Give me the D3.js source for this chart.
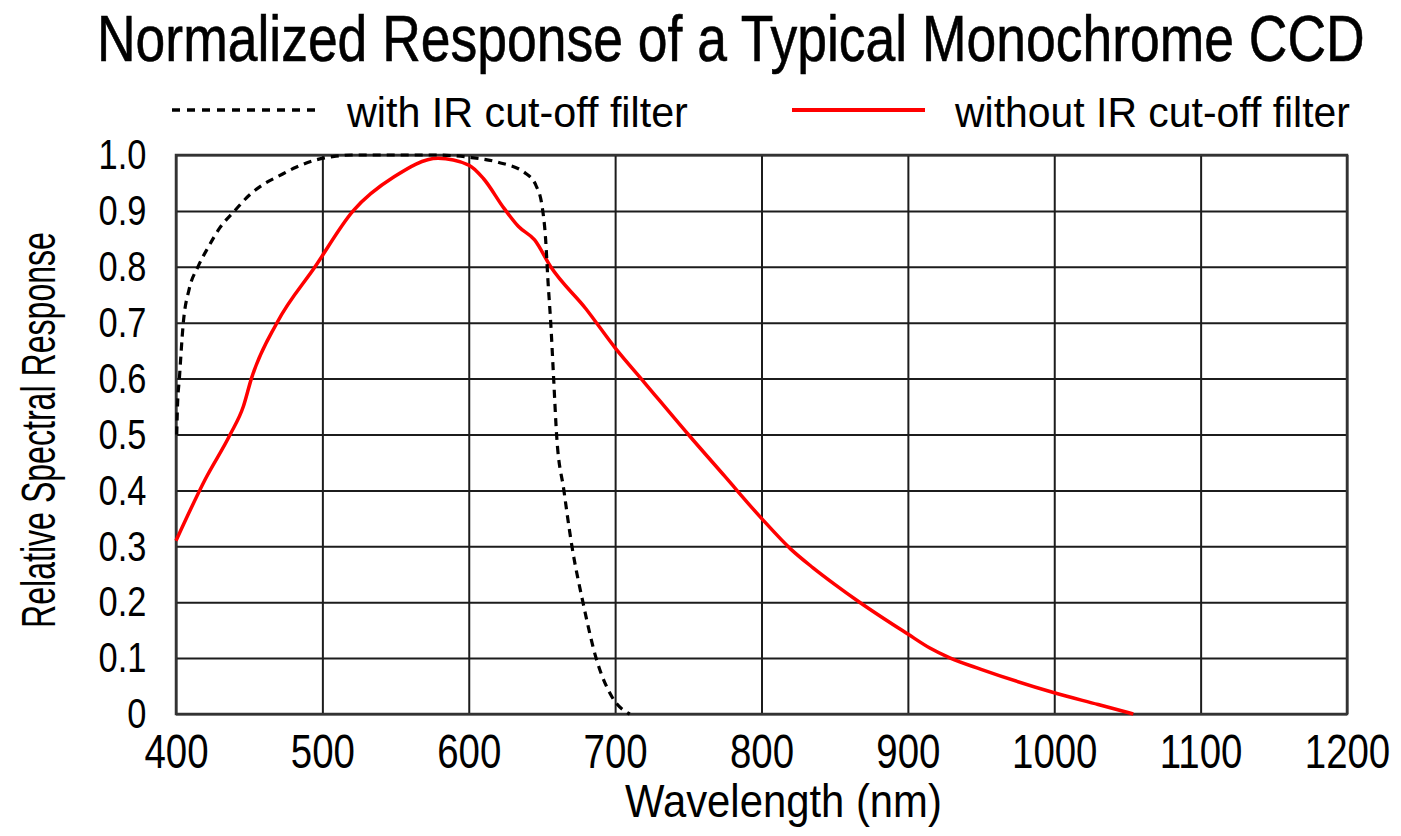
<!DOCTYPE html>
<html><head><meta charset="utf-8">
<script src="https://cdn.jsdelivr.net/npm/d3@7"></script>
<style>body{margin:0;background:#fff}</style>
</head><body>
<svg id="c" width="1401" height="836" xmlns="http://www.w3.org/2000/svg"></svg>
<script>
// ---- data ----
const xTicks = [400, 500, 600, 700, 800, 900, 1000, 1100, 1200];
const yTicks = [0, 0.1, 0.2, 0.3, 0.4, 0.5, 0.6, 0.7, 0.8, 0.9, 1.0];
const titleText = "Normalized Response of a Typical Monochrome CCD";
const seriesNames = ["with IR cut-off filter", "without IR cut-off filter"];
const xTitle = "Wavelength (nm)";
const yTitle = "Relative Spectral Response";

// with IR cut-off filter: [wavelength nm, relative response]
const withIR = [
  [400.5,0.50],[401,0.55],[402.3,0.60],[405,0.70],[409,0.76],[415,0.80],[422,0.835],
  [430,0.87],[440,0.90],[450,0.928],[460,0.948],[470,0.962],[482,0.978],[494,0.99],
  [507,0.997],[520,1.0],[578,1.0],[600,0.996],[620,0.987],
  [639,0.967],[646,0.945],[650,0.91],[652.5,0.85],[654,0.78],[656,0.70],[658,0.60],[660,0.50],
  [665,0.40],[670.5,0.30],[678,0.20],[687,0.10],[698,0.03],[710,0]
];
// without IR cut-off filter
const withoutIR = [
  [400,0.31],[420,0.42],[437,0.50],[446,0.55],[451.5,0.60],[469,0.70],[495,0.80],
  [521,0.90],[549,0.961],[579,0.994],[600,0.982],[610,0.958],[624,0.905],[634,0.872],
  [645,0.848],[656,0.80],[680,0.725],[700,0.655],[720,0.593],[750,0.50],[775,0.425],
  [800,0.35],[820,0.295],[835,0.262],[850,0.232],[867,0.20],[900,0.143],[915,0.118],[929,0.10],
  [950,0.08],[1000,0.038],[1030,0.017],[1054,0]
];

// ---- layout ----
const FONT = "'Liberation Sans', Arial, sans-serif";
const L = 176, R = 1347, T = 155, B = 714;
const svg = d3.select("#c");
const x = d3.scaleLinear().domain([400, 1200]).range([L, R]);
const y = d3.scaleLinear().domain([0, 1]).range([B, T]);

// grid + x axis
const gx = svg.append("g").attr("transform", `translate(0,${B})`)
  .call(d3.axisBottom(x).tickValues(xTicks).tickSize(-(B - T)).tickPadding(20).tickFormat(d3.format("d")));
gx.select(".domain").remove();
gx.selectAll(".tick line").attr("stroke", "#1c1c1c").attr("stroke-width", 2);
gx.selectAll(".tick text").attr("font-family", FONT).attr("font-size", 48)
  .attr("fill", "#000").attr("transform", "scale(0.8,1)");

const gy = svg.append("g").attr("transform", `translate(${L},0)`)
  .call(d3.axisLeft(y).tickValues(yTicks).tickSize(-(R - L)).tickPadding(37)
    .tickFormat(d => d === 0 ? "0" : d3.format(".1f")(d)));
gy.select(".domain").remove();
gy.selectAll(".tick line").attr("stroke", "#1c1c1c").attr("stroke-width", 2);
gy.selectAll(".tick text").attr("font-family", FONT).attr("font-size", 43)
  .attr("fill", "#000").attr("transform", "scale(0.8,1)");

// border
svg.append("rect").attr("x", L).attr("y", T).attr("width", R - L).attr("height", B - T)
  .attr("fill", "none").attr("stroke", "#333").attr("stroke-width", 2.5);

// curves
const line = d3.line().x(d => x(d[0])).y(d => y(d[1])).curve(d3.curveMonotoneX);
svg.append("path").datum(withoutIR).attr("d", line).attr("fill", "none")
  .attr("stroke", "#ff0000").attr("stroke-width", 3.5).attr("stroke-linejoin", "round");
svg.append("path").datum(withIR).attr("d", line).attr("fill", "none")
  .attr("stroke", "#000").attr("stroke-width", 3.2).attr("stroke-dasharray", "8,6");

// condensed text: measure natural width, then squeeze horizontally with a transform
function txt(s, xx, yy, size, len, rot) {
  const g = svg.append("g");
  const t = g.append("text").attr("x", 0).attr("y", 0).attr("font-family", FONT)
    .attr("font-size", size).attr("fill", "#000").text(s);
  const w = t.node().getComputedTextLength();
  const sx = len / w;
  if (rot) {
    t.attr("text-anchor", "middle");
    g.attr("transform", `translate(${xx},${yy}) rotate(-90) scale(${sx},1)`);
  } else {
    g.attr("transform", `translate(${xx},${yy}) scale(${sx},1)`);
  }
  return t;
}
txt(titleText, 97, 61, 65, 1268).attr("stroke", "#000").attr("stroke-width", 0.6);

// legend
svg.append("line").attr("x1", 172).attr("x2", 322).attr("y1", 110).attr("y2", 110)
  .attr("stroke", "#000").attr("stroke-width", 3.5).attr("stroke-dasharray", "8,7");
txt(seriesNames[0], 347, 127, 43, 341);
svg.append("line").attr("x1", 792).attr("x2", 925).attr("y1", 110).attr("y2", 110)
  .attr("stroke", "#ff0000").attr("stroke-width", 4);
txt(seriesNames[1], 955, 127, 43, 395);

// axis titles
txt(xTitle, 625, 817, 46, 317);
txt(yTitle, 55, 430, 49, 396, true);
</script>
</body></html>
